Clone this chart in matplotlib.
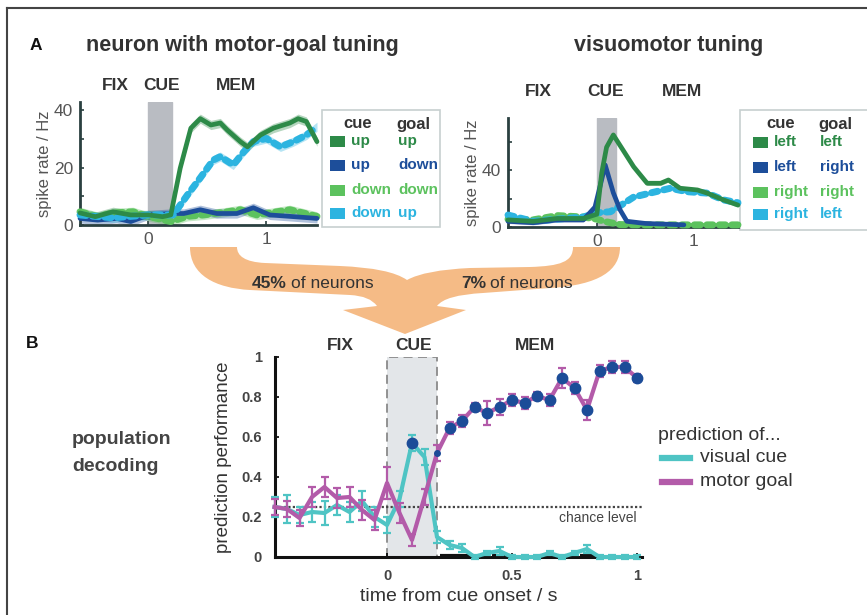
# Import modules

import matplotlib
matplotlib.use('Agg')
import matplotlib.pyplot as plt
from matplotlib.path import Path
from matplotlib.patches import PathPatch, Rectangle

import numpy as np
# --------------------------------------------------------------------------------------
# Data

# A, left: neuron with motor-goal tuning (time / s, spike rate / Hz)
tL_upup     = [-0.58, -0.45, -0.3, -0.15, 0.0, 0.12, 0.19, 0.27, 0.36, 0.44, 0.53, 0.61, 0.67,
               0.78, 0.84, 0.95, 1.06, 1.2, 1.27, 1.34, 1.43]
rL_upup     = [4.2, 2.9, 4.6, 3.5, 3.5, 2.9, 3.5, 19.8, 33.7, 37, 34.8, 35.5, 33,
               29, 27.2, 31.3, 33.7, 35.5, 37, 36, 29]
tL_updown   = [-0.58, -0.43, -0.27, -0.15, 0.0, 0.19, 0.30, 0.44, 0.58, 0.75, 0.89, 1.03, 1.2, 1.43]
rL_updown   = [2.3, 1.7, 2.3, 1.2, 3.5, 4, 4, 5.3, 4, 4, 6, 3.5, 3, 2.3]
tL_dndn     = [-0.58, -0.43, -0.3, -0.13, 0.0, 0.19, 0.33, 0.47, 0.67, 0.78, 0.92, 1.2, 1.43]
rL_dndn     = [4.6, 2.9, 4.2, 4.6, 3.0, 1.2, 3.0, 3.5, 4.6, 5.3, 3.5, 5.3, 3.0]
tL_dnup     = [-0.58, -0.45, -0.3, -0.15, 0.0, 0.1, 0.21, 0.33, 0.44, 0.55, 0.61, 0.72, 0.81,
               0.89, 1.0, 1.12, 1.23, 1.34, 1.43]
rL_dnup     = [3.5, 3.0, 2.5, 3.0, 3.5, 3.5, 3.5, 10.4, 16.4, 22.6, 23.8, 20.9, 25.5,
               29, 30.1, 27.2, 29, 31.3, 34.2]

# A, right: visuomotor tuning
tR_ll       = [-0.92, -0.66, -0.41, -0.14, 0.0, 0.05, 0.1, 0.17, 0.27, 0.38, 0.52, 0.66, 0.74,
               0.86, 1.04, 1.14, 1.31, 1.46]
rR_ll       = [5, 4, 6, 6, 9, 38, 56, 64.6, 54, 42.3, 30.7, 30.7, 33,
               27.2, 26, 23.8, 19, 15.4]
tR_lr       = [-0.92, -0.66, -0.41, -0.14, -0.02, 0.086, 0.17, 0.24, 0.31, 0.5, 0.7, 0.9]
rR_lr       = [4, 3, 5, 5, 14, 43.5, 24, 12, 4, 2.5, 2, 1.5]
tR_rr       = [-0.92, -0.66, -0.41, -0.14, 0.0, 0.07, 0.24, 0.5, 0.8, 1.1, 1.46]
rR_rr       = [5.5, 5, 8, 7, 5.5, 4, 1.7, 1.5, 1.5, 1.5, 1.5]
tR_rl       = [-0.92, -0.66, -0.41, -0.14, 0.0, 0.14, 0.22, 0.38, 0.55, 0.76, 0.93, 1.14, 1.31, 1.46]
rR_rl       = [8.4, 4, 5.5, 7, 10, 10.7, 14, 21, 23.8, 27.2, 24.8, 23.8, 19, 17]

legL_cue    = ['up', 'up', 'down', 'down']
legL_goal   = ['up', 'down', 'down', 'up']
legR_cue    = ['left', 'left', 'right', 'right']
legR_goal   = ['left', 'right', 'right', 'left']

# B: population decoding
t_dec       = [-0.45, -0.40, -0.35, -0.30, -0.25, -0.20, -0.15, -0.10, -0.05, 0.00,
               0.05, 0.10, 0.15, 0.20, 0.25, 0.30, 0.35, 0.40, 0.45, 0.50,
               0.55, 0.60, 0.65, 0.70, 0.75, 0.80, 0.85, 0.90, 0.95, 1.00]
cue_perf    = [0.25, 0.24, 0.21, 0.225, 0.22, 0.26, 0.225, 0.28, 0.20, 0.16,
               0.29, 0.57, 0.50, 0.10, 0.06, 0.045, 0.0, 0.02, 0.03, 0.0,
               0.0, 0.0, 0.02, 0.0, 0.02, 0.04, 0.0, 0.0, 0.0, 0.0]
cue_err     = [0.05, 0.07, 0.04, 0.05, 0.06, 0.05, 0.05, 0.05, 0.05, 0.04,
               0.04, 0.04, 0.04, 0.03, 0.02, 0.02, 0.01, 0.01, 0.02, 0.01,
               0.01, 0.01, 0.01, 0.01, 0.01, 0.02, 0.01, 0.01, 0.01, 0.01]
goal_perf   = [0.25, 0.24, 0.195, 0.30, 0.35, 0.295, 0.30, 0.235, 0.185, 0.37,
               0.22, 0.085, 0.30, 0.52, 0.645, 0.68, 0.75, 0.72, 0.75, 0.785,
               0.77, 0.805, 0.785, 0.895, 0.845, 0.735, 0.93, 0.95, 0.95, 0.895]
goal_err    = [0.04, 0.04, 0.04, 0.05, 0.05, 0.05, 0.05, 0.05, 0.05, 0.08,
               0.05, 0.03, 0.04, 0.04, 0.03, 0.03, 0.02, 0.06, 0.04, 0.03,
               0.03, 0.02, 0.03, 0.05, 0.03, 0.05, 0.03, 0.03, 0.03, 0.02]

# significant time bins (p < 0.01 big dots, p < 0.05 small dots)
goal_p01    = [0.25, 0.30, 0.35, 0.40, 0.45, 0.50, 0.55, 0.60, 0.65, 0.70, 0.75, 0.80, 0.85, 0.90, 0.95, 1.00]
goal_p05    = [0.20]
cue_p01     = [0.10]

# black bars on the time axis
sig_bars    = [(0.21, 0.33), (0.42, 0.49), (0.77, 0.84)]

chance      = 0.25
# --------------------------------------------------------------------------------------
# Styles

dkgreen  = '#2d8a48'
dkblue   = '#1d4e9a'
ltgreen  = '#5cc25e'
ltblue   = '#2cb4e0'
cyan     = '#4fc4c4'
magenta  = '#b35ba9'
dotblue  = '#1c4c98'
orange   = '#f5bb86'
txtcol   = '#333333'

plt.rcParams['font.family'] = ['Liberation Sans', 'DejaVu Sans']

W, H = 867, 615
fig = plt.figure(figsize=(W / 100, H / 100), dpi=100)

# background axes in pixel coords
bg = fig.add_axes([0, 0, 1, 1])
bg.set_xlim(0, W)
bg.set_ylim(H, 0)
bg.axis('off')

def px_axes(x0, y0, x1, y1):
    # axes from pixel box (top-left, bottom-right)
    return fig.add_axes([x0 / W, 1 - y1 / H, (x1 - x0) / W, (y1 - y0) / H])

# border
bg.plot([7, 7], [8, H], color='#444444', lw=1.5)
bg.plot([7, W], [8, 8], color='#444444', lw=1.5)
# --------------------------------------------------------------------------------------
# Orange arrow

verts = [(190, 247), (190, 275), (215, 288), (250, 290), (350, 295), (370, 296), (377, 306),
         (343, 310), (405, 334), (466, 310), (437, 306), (445, 295), (483, 293), (550, 288),
         (600, 285), (620, 270), (620, 247), (573, 247), (573, 262), (560, 266), (530, 267),
         (470, 268), (425, 270), (407, 280), (390, 268), (340, 266), (265, 263),
         (245, 262), (237, 256), (237, 247), (190, 247)]
codes = [Path.MOVETO, Path.CURVE4, Path.CURVE4, Path.CURVE4, Path.LINETO, Path.CURVE3, Path.CURVE3,
         Path.LINETO, Path.LINETO, Path.LINETO, Path.LINETO, Path.CURVE3, Path.CURVE3, Path.LINETO,
         Path.CURVE4, Path.CURVE4, Path.CURVE4, Path.LINETO, Path.CURVE4, Path.CURVE4, Path.CURVE4,
         Path.LINETO, Path.CURVE3, Path.CURVE3, Path.CURVE3, Path.CURVE3, Path.LINETO,
         Path.CURVE4, Path.CURVE4, Path.CURVE4, Path.CLOSEPOLY]
bg.add_patch(PathPatch(Path(verts, codes), facecolor=orange, edgecolor='none'))

bg.text(287, 283, '45%', fontsize=12.5, fontweight='bold', ha='right', va='center', color=txtcol)
bg.text(291, 283, 'of neurons', fontsize=12.5, ha='left', va='center', color=txtcol)
bg.text(486, 284, '7%', fontsize=12.5, fontweight='bold', ha='right', va='center', color=txtcol)
bg.text(490, 284, 'of neurons', fontsize=12.5, ha='left', va='center', color=txtcol)
# --------------------------------------------------------------------------------------
# Panel labels and titles

bg.text(30, 45, 'A', fontsize=12.5, fontweight='bold', ha='left', va='center', color='#111111')
bg.text(26, 343, 'B', fontsize=12.5, fontweight='bold', ha='left', va='center', color='#111111')
bg.text(242, 45, 'neuron with motor-goal tuning', fontsize=15.5, fontweight='bold',
        ha='center', va='center', color=txtcol)
bg.text(669, 45, 'visuomotor tuning', fontsize=15.5, fontweight='bold',
        ha='center', va='center', color=txtcol)
bg.text(72, 453, 'population\ndecoding', fontsize=14, fontweight='bold', ha='left',
        va='center', color='#444444', linespacing=1.75)

for lab, x, y in [('FIX', 115, 86), ('CUE', 161, 86), ('MEM', 236, 86),
                  ('FIX', 538, 91), ('CUE', 606, 91), ('MEM', 682, 91),
                  ('FIX', 340, 345), ('CUE', 413, 345), ('MEM', 535, 345)]:
    bg.text(x, y, lab, fontsize=12.5, fontweight='bold', ha='center', va='center', color=txtcol)
# --------------------------------------------------------------------------------------
# Panel A helpers

def style_a(ax, yt_major, yt_minor, ymax, xlim):
    for s in ['top', 'right']:
        ax.spines[s].set_visible(False)
    for s in ['left', 'bottom']:
        ax.spines[s].set_linewidth(2)
        ax.spines[s].set_color('#2a4040')
    ax.set_xlim(xlim)
    ax.set_ylim(0, ymax)
    ax.set_xticks([0, 1])
    ax.set_xticklabels(['0', '1'])
    ax.set_yticks(yt_major + yt_minor)
    ax.set_yticklabels([str(v) for v in yt_major] + [''] * len(yt_minor))
    ax.tick_params(direction='in', length=3, width=1.2, labelsize=12.5, labelcolor='#555555',
                   color='#2a4040', pad=5)
    ax.set_ylabel('spike rate / Hz', fontsize=12, color='#555555', labelpad=1)
    ax.axvspan(0, 0.2, color='#b9bcc2', zorder=0)

def trace(ax, t, r, col, dashed, band=1.6):
    t = np.array(t)
    r = np.array(r)
    ax.fill_between(t, r - band, r + band, color=col, alpha=0.35, lw=0, zorder=2)
    if dashed:
        ax.plot(t, r, color=col, lw=5, linestyle=(0, (0.9, 0.9)), dash_capstyle='round',
                zorder=3, clip_on=False)
    else:
        ax.plot(t, r, color=col, lw=3.4, solid_capstyle='round', zorder=3, clip_on=False)

def legend_box(x0, y0, x1, y1, cues, goals, cue_x, goal_x, row_y):
    bg.add_patch(Rectangle((x0, y0), x1 - x0, y1 - y0, facecolor='white',
                           edgecolor='#c7d0d0', lw=1.2))
    bg.text(cue_x + 7, y0 + 14, 'cue', fontsize=12, fontweight='bold', ha='center',
            va='center', color=txtcol)
    bg.text(goal_x + 15, y0 + 14, 'goal', fontsize=12, fontweight='bold', ha='center',
            va='center', color=txtcol)
    cols = [dkgreen, dkblue, ltgreen, ltblue]
    for i in range(4):
        y = row_y[i]
        bg.add_patch(Rectangle((cue_x - 21, y - 5.5), 15, 11, facecolor=cols[i], edgecolor='none'))
        bg.text(cue_x, y, cues[i], fontsize=11, fontweight='bold', ha='left', va='center',
                color=cols[i])
        bg.text(goal_x, y, goals[i], fontsize=11, fontweight='bold', ha='left', va='center',
                color=cols[i])
# --------------------------------------------------------------------------------------
# Panel A, left

axL = px_axes(80, 102, 317, 225)
style_a(axL, [0, 20, 40], [10, 30], 42.8, (-0.58, 1.43))
trace(axL, tL_dndn, rL_dndn, ltgreen, True)
trace(axL, tL_updown, rL_updown, dkblue, False)
trace(axL, tL_dnup, rL_dnup, ltblue, True)
trace(axL, tL_upup, rL_upup, dkgreen, False)
legend_box(322, 110, 440, 227, legL_cue, legL_goal, 351, 398, [141, 165, 190, 213])
# --------------------------------------------------------------------------------------
# Panel A, right

axR = px_axes(508, 118, 738, 227)
style_a(axR, [0, 40], [20, 60], 76.5, (-0.92, 1.46))
trace(axR, tR_rr, rR_rr, ltgreen, True, band=1.5)
trace(axR, tR_rl, rR_rl, ltblue, True, band=1.5)
trace(axR, tR_lr, rR_lr, dkblue, False, band=1.5)
trace(axR, tR_ll, rR_ll, dkgreen, False, band=1.5)
legend_box(740, 110, 875, 230, legR_cue, legR_goal, 774, 820, [142, 167, 192, 214])
# --------------------------------------------------------------------------------------
# Panel B

ax = px_axes(274.5, 357, 642, 557)
ax.set_xlim(-0.45, 1.02)
ax.set_ylim(0, 1)
for s in ['top', 'right']:
    ax.spines[s].set_visible(False)
for s in ['left', 'bottom']:
    ax.spines[s].set_linewidth(2.2)
    ax.spines[s].set_color('#111111')

ax.add_patch(Rectangle((0, 0), 0.2, 1, facecolor='#e3e6e9', edgecolor='#8a8a8a', lw=1.3,
                       linestyle=(0, (5, 3)), zorder=0))
ax.axhline(chance, color='#444444', lw=1.6, linestyle=(0, (1, 1)), zorder=1)
ax.text(1.0, chance - 0.055, 'chance level', fontsize=10, ha='right', va='center', color='#444444')

for a, b in sig_bars:
    ax.plot([a, b], [0.004, 0.004], color='#111111', lw=3, solid_capstyle='butt', zorder=2,
            clip_on=False)

ax.errorbar(t_dec, cue_perf, yerr=cue_err, color=cyan, lw=3, elinewidth=1.6, capsize=3,
            capthick=1.6, zorder=3, clip_on=False)
ax.errorbar(t_dec, goal_perf, yerr=goal_err, color=magenta, lw=3, elinewidth=1.6, capsize=3,
            capthick=1.6, zorder=4, clip_on=False)

goal_lookup = dict(zip(t_dec, goal_perf))
cue_lookup = dict(zip(t_dec, cue_perf))
ax.plot(goal_p01, [goal_lookup[t] for t in goal_p01], 'o', color=dotblue, ms=7.5, zorder=5,
        clip_on=False)
ax.plot(goal_p05, [goal_lookup[t] for t in goal_p05], 'o', color=dotblue, ms=4, zorder=5)
ax.plot(cue_p01, [cue_lookup[t] for t in cue_p01], 'o', color=dotblue, ms=7.5, zorder=5)

ax.set_xticks([0, 0.5, 1])
ax.set_xticklabels(['0', '0.5', '1'])
ax.set_yticks([0, 0.2, 0.4, 0.6, 0.8, 1])
ax.set_yticklabels(['0', '0.2', '0.4', '0.6', '0.8', '1'])
ax.tick_params(direction='in', length=3, width=1.2, labelsize=10.5, labelcolor='#444444', pad=9)
for lbl in ax.get_xticklabels() + ax.get_yticklabels():
    lbl.set_fontweight('bold')
ax.set_ylabel('prediction performance', fontsize=13.5, color=txtcol, labelpad=7)
ax.set_xlabel('time from cue onset / s', fontsize=14, color=txtcol, labelpad=3)

# inner legend
bg.text(290, 380, '131 neurons', fontsize=11, fontweight='bold', ha='left', va='center',
        color=txtcol)
bg.plot([301], [409], 'o', color=dotblue, ms=8.5)
bg.text(315, 409, 'p < 0.01', fontsize=11.5, ha='left', va='center', color=txtcol)
bg.plot([301], [433], 'o', color=dotblue, ms=3.5)
bg.text(315, 433, 'p < 0.05', fontsize=11.5, ha='left', va='center', color=txtcol)

# outer legend
bg.text(658, 435, 'prediction of...', fontsize=14, ha='left', va='center', color=txtcol)
bg.plot([662, 690], [458, 458], color=cyan, lw=4.5)
bg.text(700, 458, 'visual cue', fontsize=14, ha='left', va='center', color=txtcol)
bg.plot([662, 690], [482, 482], color=magenta, lw=4.5)
bg.text(700, 482, 'motor goal', fontsize=14, ha='left', va='center', color=txtcol)
# --------------------------------------------------------------------------------------
# Save chart

fig.savefig('out.png', dpi=100)
